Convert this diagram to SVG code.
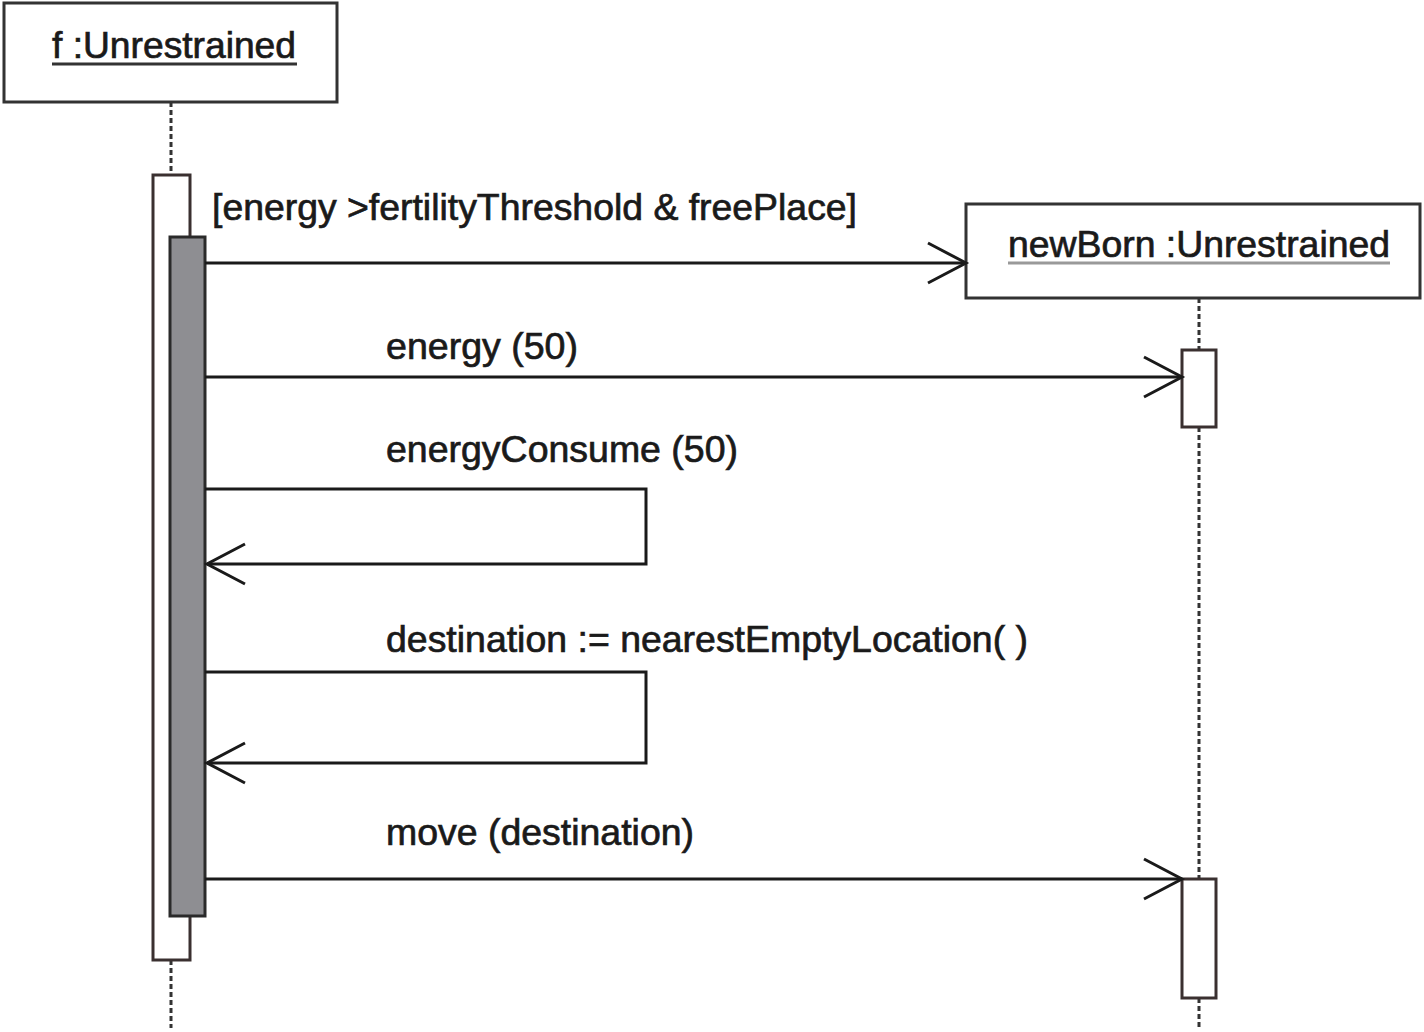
<svg xmlns="http://www.w3.org/2000/svg" width="1424" height="1032" viewBox="0 0 1424 1032">
<style>
text{font-family:"Liberation Sans",Arial,sans-serif;font-size:37px;fill:#1a1a1a;stroke:#1a1a1a;stroke-width:0.7}
.box{fill:#fff;stroke:#333;stroke-width:3}
.life{stroke:#333;stroke-width:3;stroke-dasharray:5,3;fill:none}
.act{fill:#fff;stroke:#3a3030;stroke-width:3}
.actd{fill:#8e8e92;stroke:#2a2a2a;stroke-width:3}
.msg{stroke:#1a1a1a;stroke-width:3;fill:none}
.ul{stroke:#333;stroke-width:3}
</style>
<defs>
<marker id="open" markerUnits="userSpaceOnUse" markerWidth="50" markerHeight="50" refX="40" refY="22" orient="auto">
<polyline points="2,2 40,22 2,42" fill="none" stroke="#1a1a1a" stroke-width="3"/>
</marker>
</defs>
<rect width="1424" height="1032" fill="#fff"/>
<g id="lifeline-f">
<line class="life" x1="171" y1="102" x2="171" y2="176"/>
<line class="life" x1="171" y1="960" x2="171" y2="1028"/>
</g>
<g id="lifeline-newBorn">
<line class="life" x1="1199" y1="298" x2="1199" y2="350"/>
<line class="life" x1="1199" y1="427" x2="1199" y2="879"/>
<line class="life" x1="1199" y1="998" x2="1199" y2="1028"/>
</g>
<g id="node-f">
<rect class="box" x="4" y="3" width="333" height="99"/>
<text x="52" y="58" textLength="244" lengthAdjust="spacingAndGlyphs">f :Unrestrained</text>
<line class="ul" x1="52" y1="64" x2="297" y2="64"/>
</g>
<g id="node-newBorn">
<rect class="box" x="966" y="204" width="454" height="94"/>
<text x="1008" y="257" textLength="382" lengthAdjust="spacingAndGlyphs" fill="#333" stroke="#333">newBorn :Unrestrained</text>
<line x1="1008" y1="263" x2="1390" y2="263" stroke="#999" stroke-width="3"/>
</g>
<g id="activation-f">
<rect class="act" x="153" y="175" width="37" height="785"/>
<rect class="actd" x="170" y="237" width="35" height="679"/>
</g>
<g id="activation-newBorn">
<rect class="act" x="1182" y="350" width="34" height="77"/>
<rect class="act" x="1182" y="879" width="34" height="119"/>
</g>
<g id="connectors">
<line class="msg" x1="205" y1="263" x2="966" y2="263" marker-end="url(#open)"/>
<line class="msg" x1="205" y1="377" x2="1182" y2="377" marker-end="url(#open)"/>
<polyline class="msg" points="205,489 646,489 646,564 207,564" marker-end="url(#open)"/>
<polyline class="msg" points="205,672 646,672 646,763 207,763" marker-end="url(#open)"/>
<line class="msg" x1="205" y1="879" x2="1182" y2="879" marker-end="url(#open)"/>
</g>
<g id="labels">
<text x="212" y="220" textLength="645" lengthAdjust="spacingAndGlyphs">[energy &gt;fertilityThreshold &amp; freePlace]</text>
<text x="386" y="359" textLength="192" lengthAdjust="spacingAndGlyphs">energy (50)</text>
<text x="386" y="462" textLength="352" lengthAdjust="spacingAndGlyphs">energyConsume (50)</text>
<text x="386" y="652" textLength="642" lengthAdjust="spacingAndGlyphs">destination := nearestEmptyLocation( )</text>
<text x="386" y="845" textLength="308" lengthAdjust="spacingAndGlyphs">move (destination)</text>
</g>
</svg>
